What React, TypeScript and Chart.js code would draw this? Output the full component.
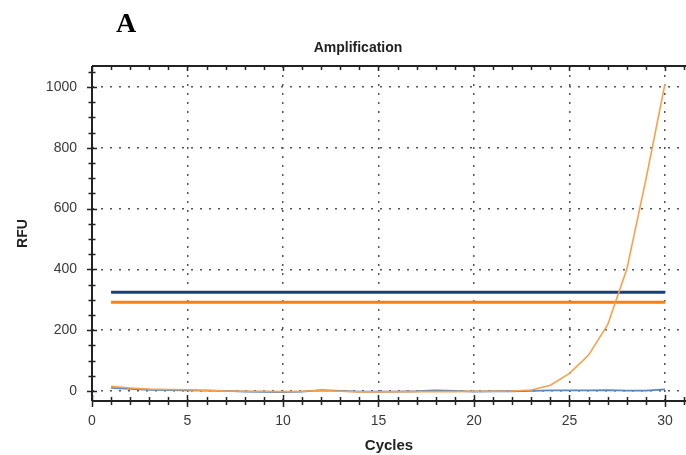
import React, { useEffect, useRef } from 'react';
import { Chart, registerables } from 'chart.js';

Chart.register(...registerables);

const cycles = [1, 2, 3, 4, 5, 6, 7, 8, 9, 10, 11, 12, 13, 14, 15, 16, 17, 18, 19, 20, 21, 22, 23, 24, 25, 26, 27, 28, 29, 30];
const orangeRFU = [15, 10, 6, 5, 4, 2, 0, -1, -1, -2, -1, 1, -1, -3, -3, -2, -2, -2, -2, -1, -1, 0, 3, 19, 58, 118, 218, 400, 695, 1010];
const blueRFU = [10, 7, 4, 3, 2, 1, 0, -2, -3, -4, -2, 3, 0, -2, -2, -2, -1, 2, 0, -2, -1, -1, 0, 2, 2, 2, 3, 1, 1, 5];
const thresholdBlue = 325;
const thresholdOrange = 292;
const thresholdCycles = [1, 30];
const xTickValues = [0, 5, 10, 15, 20, 25, 30];
const yTickValues = [0, 200, 400, 600, 800, 1000];

const FONT = '"Liberation Sans", Arial, sans-serif';

const decoPlugin = {
  id: 'decoPlugin',
  afterDraw(chart: any) {
    const { ctx, chartArea, scales } = chart;
    const { left, right, top, bottom } = chartArea;
    const x = scales.x;
    const y = scales.y;
    ctx.save();
    ctx.strokeStyle = '#222';
    ctx.lineWidth = 2;
    ctx.beginPath();
    ctx.moveTo(left, top);
    ctx.lineTo(right, top);
    ctx.moveTo(left, top);
    ctx.lineTo(left, bottom);
    ctx.moveTo(left, bottom);
    ctx.lineTo(right, bottom);
    ctx.stroke();

    ctx.lineWidth = 1.5;
    ctx.beginPath();
    for (let v = 0; v <= x.max; v++) {
      const px = Math.round(x.getPixelForValue(v)) + 0.5;
      const major = v % 5 === 0;
      const h = major ? 6 : 4;
      ctx.moveTo(px, bottom - h);
      ctx.lineTo(px, bottom + h);
      ctx.moveTo(px, top);
      ctx.lineTo(px, top + (major ? 5 : 4));
    }
    for (let v = 0; v <= y.max; v += 50) {
      const py = Math.round(y.getPixelForValue(v)) + 0.5;
      const major = v % 200 === 0;
      const w = major ? 5 : 3.5;
      ctx.moveTo(left - w, py);
      ctx.lineTo(left + w, py);
    }
    ctx.stroke();

    ctx.fillStyle = '#222';
    ctx.font = 'bold 14px ' + FONT;
    ctx.textAlign = 'center';
    ctx.textBaseline = 'middle';
    ctx.fillText('Amplification', 358, 48);

    ctx.fillStyle = '#000';
    ctx.font = 'bold 28px "Liberation Serif", "Times New Roman", serif';
    ctx.textAlign = 'left';
    ctx.textBaseline = 'alphabetic';
    ctx.fillText('A', 116, 32);
    ctx.restore();
  },
};

export default function App() {
  const canvasRef = useRef<HTMLCanvasElement | null>(null);

  useEffect(() => {
    document.body.style.margin = '0';
    const canvas = canvasRef.current;
    if (!canvas) return;
    const chart = new Chart(canvas, {
      type: 'line',
      data: {
        datasets: [
          {
            label: 'Sample orange',
            data: cycles.map((c, i) => ({ x: c, y: orangeRFU[i] })),
            borderColor: '#F9A04A',
            borderWidth: 1.6,
            pointRadius: 0,
            tension: 0,
          },
          {
            label: 'Sample blue',
            data: cycles.map((c, i) => ({ x: c, y: blueRFU[i] })),
            borderColor: '#5A86BE',
            borderWidth: 1.8,
            pointRadius: 0,
            tension: 0,
          },
          {
            label: 'Threshold blue',
            data: thresholdCycles.map((c) => ({ x: c, y: thresholdBlue })),
            borderColor: '#16407E',
            borderWidth: 3,
            pointRadius: 0,
          },
          {
            label: 'Threshold orange',
            data: thresholdCycles.map((c) => ({ x: c, y: thresholdOrange })),
            borderColor: '#FF7F0E',
            borderWidth: 3,
            pointRadius: 0,
          },
        ],
      },
      options: {
        animation: false,
        responsive: false,
        maintainAspectRatio: false,
        layout: { padding: { top: 66, left: 0, right: 0, bottom: 0 } },
        plugins: {
          legend: { display: false },
          title: { display: false },
          tooltip: { enabled: false },
        },
        scales: {
          x: {
            type: 'linear',
            min: 0,
            max: 31.1,
            afterBuildTicks: (scale: any) => {
              scale.ticks = xTickValues.map((v) => ({ value: v }));
            },
            afterFit: (scale: any) => {
              scale.height = 54;
            },
            ticks: {
              color: '#3a3a3a',
              font: { family: FONT, size: 14 },
              padding: 12,
              maxRotation: 0,
              autoSkip: false,
              callback: (v: any) => String(v),
            },
            grid: {
              color: '#555',
              lineWidth: 1.5,
              drawTicks: false,
            },
            border: { display: false, dash: [2, 7] },
            title: {
              display: true,
              text: 'Cycles',
              color: '#222',
              font: { family: FONT, size: 15, weight: 'bold' },
              padding: { top: 0, bottom: 0 },
            },
          },
          y: {
            type: 'linear',
            min: -33,
            max: 1069,
            afterBuildTicks: (scale: any) => {
              scale.ticks = yTickValues.map((v) => ({ value: v }));
            },
            afterFit: (scale: any) => {
              scale.width = 92;
            },
            ticks: {
              color: '#3a3a3a',
              font: { family: FONT, size: 14 },
              padding: 15,
              autoSkip: false,
              callback: (v: any) => String(v),
            },
            grid: {
              color: '#555',
              lineWidth: 1.5,
              drawTicks: false,
            },
            border: { display: false, dash: [2, 7] },
            title: {
              display: true,
              text: 'RFU',
              color: '#222',
              font: { family: FONT, size: 14, weight: 'bold' },
              padding: { top: 15, bottom: 0 },
            },
          },
        },
      },
      plugins: [decoPlugin],
    } as any);
    return () => chart.destroy();
  }, []);

  return (
    <div style={{ position: 'absolute', left: 0, top: 0, width: 686, height: 455, background: '#fff' }}>
      <canvas ref={canvasRef} width={686} height={455} style={{ width: 686, height: 455, display: 'block' }} />
    </div>
  );
}
